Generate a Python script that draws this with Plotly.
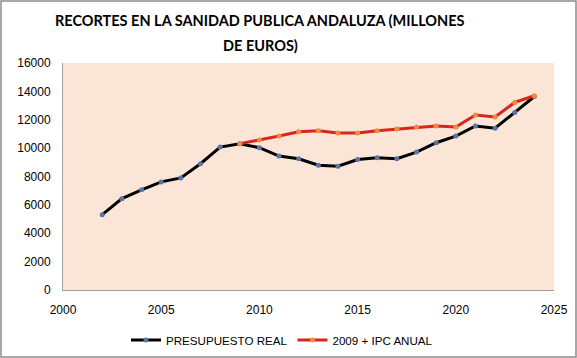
import plotly.graph_objects as go

years_real = list(range(2002, 2025))
presupuesto_real = [5310, 6440, 7060, 7620, 7900, 8900, 10075, 10310, 10030, 9440, 9250,
                    8800, 8730, 9200, 9320, 9250, 9720, 10380, 10850, 11560, 11400, 12510, 13640]
years_ipc = list(range(2009, 2025))
ipc_anual = [10310, 10570, 10850, 11160, 11230, 11070, 11070, 11230, 11350, 11490, 11560,
             11490, 12340, 12200, 13220, 13690]

title_lines = ["RECORTES EN LA SANIDAD PUBLICA ANDALUZA (MILLONES", "DE EUROS)"]
x_ticks = [2000, 2005, 2010, 2015, 2020, 2025]
y_ticks = list(range(0, 16001, 2000))

W, H = 577, 358
ml, mr, mt, mb = 63, 23, 63, 68
pw, ph = W - ml - mr, H - mt - mb

fig = go.Figure()
fig.add_trace(go.Scatter(
    x=years_real, y=presupuesto_real, mode="lines+markers", name="PRESUPUESTO REAL",
    line=dict(color="#000000", width=3),
    marker=dict(color="#5B73A8", size=5)))
fig.add_trace(go.Scatter(
    x=years_ipc, y=ipc_anual, mode="lines+markers", name="2009 + IPC ANUAL",
    line=dict(color="#D8261C", width=3),
    marker=dict(color="#F08A3C", size=5)))

annotations = []
for line, ypix in zip(title_lines, [20, 45]):
    annotations.append(dict(
        text=f"<b>{line}</b>", xref="paper", yref="paper",
        x=(260 - ml) / pw, y=1 + (mt - ypix) / ph, xanchor="center", yanchor="middle",
        showarrow=False, font=dict(family="Lato", size=14.5, color="black")))

fig.update_layout(
    width=W, height=H,
    margin=dict(l=ml, r=mr, t=mt, b=mb, autoexpand=False),
    paper_bgcolor="white",
    plot_bgcolor="#FBE5D6",
    font=dict(family="Liberation Sans, Arial", size=11, color="black"),
    xaxis=dict(range=[2000, 2025], tickvals=x_ticks, ticktext=[str(v) for v in x_ticks],
               showgrid=False, zeroline=False, automargin=False,
               showline=True, linecolor="#A0A0A0", linewidth=1, ticks="",
               tickfont=dict(size=12), ticklabelstandoff=9),
    yaxis=dict(range=[0, 16000], tickvals=y_ticks, ticktext=[str(v) for v in y_ticks],
               showgrid=False, zeroline=False, automargin=False,
               showline=True, linecolor="#A0A0A0", linewidth=1, ticks="",
               tickfont=dict(size=12), ticklabelstandoff=9),
    legend=dict(orientation="h", x=(282 - ml) / pw, xanchor="center", y=-50 / ph,
                yanchor="middle", font=dict(size=11.6), tracegroupgap=0),
    annotations=annotations,
    shapes=[dict(type="rect", xref="paper", yref="paper",
                 x0=(-ml + 1) / pw, x1=1 + (mr - 1) / pw,
                 y0=(-mb + 1) / ph, y1=1 + (mt - 1) / ph,
                 line=dict(color="#8C8C8C", width=1.5), layer="below")],
)

fig.write_html("out.html", config={"displayModeBar": False},
               post_script="document.body.style.margin='0';")
